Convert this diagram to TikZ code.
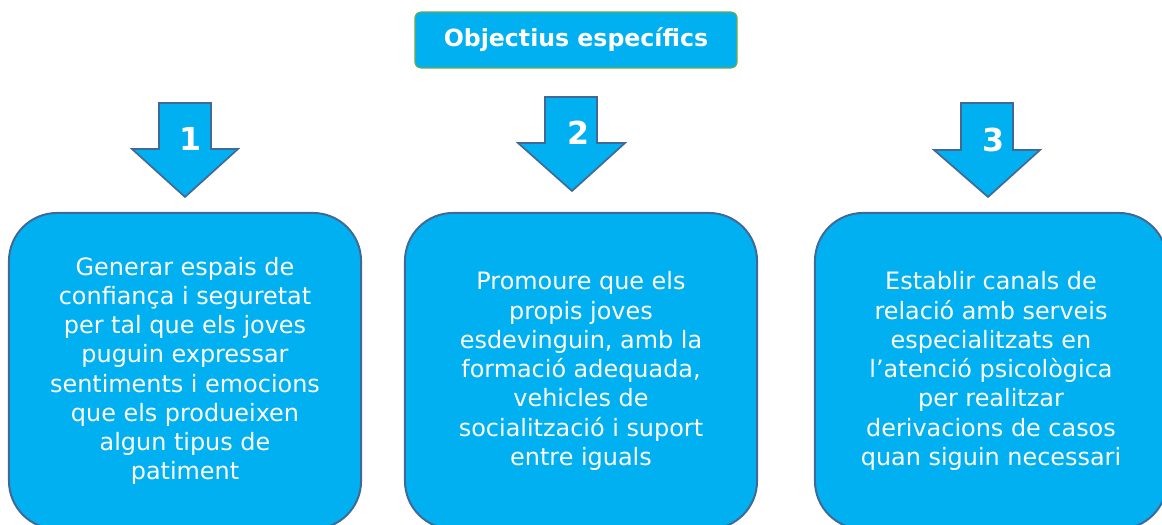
\documentclass[tikz,border=0pt]{standalone}
\usepackage{fontspec}
\setmainfont{DejaVu Sans}
\definecolor{boxblue}{RGB}{0,176,240}
\definecolor{edgeblue}{RGB}{65,105,150}
\definecolor{edgegreen}{RGB}{112,173,71}
\tikzset{
  goalbox/.style={draw=edgeblue, line width=1.4pt, fill=boxblue, rounded corners=1.2cm,
    minimum width=8.8cm, minimum height=7.9cm, text=white, align=center,
    font=\fontsize{17}{20.8}\selectfont},
  downarrow/.style={draw=edgeblue, line width=1.2pt, fill=boxblue},
  numlabel/.style={text=white, font=\fontsize{22.5}{26}\selectfont\bfseries}
}
\begin{document}
\begin{tikzpicture}[x=0.025cm, y=-0.025cm]
                \useasboundingbox (0, 0) rectangle (1162, 525);
                \clip (0, 0) rectangle (1162, 525);

                \node[draw=edgegreen, line width=0.8pt, fill=boxblue, rounded corners=0.15cm,
                  minimum width=8.05cm, minimum height=1.4cm, text=white,
                  font=\fontsize{16.8}{20}\selectfont\bfseries] (T) at (576, 40) {Objectius específics};

                \draw[downarrow] (159, 103) -- (211, 103) -- (211, 149) -- (238, 149)
                  -- (185, 197) -- (132, 149) -- (159, 149) -- cycle;
                \draw[downarrow] (545, 97) -- (597, 97) -- (597, 143) -- (625, 143)
                  -- (572, 191) -- (518, 143) -- (545, 143) -- cycle;
                \draw[downarrow] (961, 103) -- (1013, 103) -- (1013, 150) -- (1040, 150)
                  -- (988, 197) -- (934, 150) -- (961, 150) -- cycle;

                \node[numlabel] (N1) at (191, 139) {1};
                \node[numlabel] (N2) at (578, 133) {2};
                \node[numlabel] (N3) at (993, 140) {3};

                \node[goalbox] (B1) at (185, 371) {Generar espais de\\confiança i seguretat\\per tal que els joves\\puguin expressar\\sentiments i emocions\\que els produeixen\\algun tipus de\\patiment};
                \node[goalbox] (B2) at (581, 371) {Promoure que els\\propis joves\\esdevinguin, amb la\\formació adequada,\\vehicles de\\socialització i suport\\entre iguals};
                \node[goalbox] (B3) at (991, 371) {Establir canals de\\relació amb serveis\\especialitzats en\\l’atenció psicològica\\per realitzar\\derivacions de casos\\quan siguin necessari};
            \end{tikzpicture}
\end{document}
